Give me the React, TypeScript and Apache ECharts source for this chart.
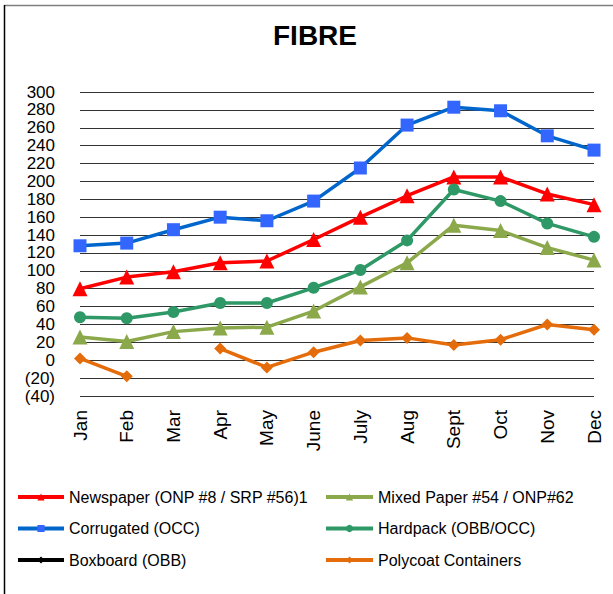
import React, { useEffect, useRef } from "react";
import * as echarts from "echarts";

const months = ["Jan", "Feb", "Mar", "Apr", "May", "June", "July", "Aug", "Sept", "Oct", "Nov", "Dec"];
const newspaper = [80, 93, 99, 109, 111, 135, 160, 184, 205, 205, 186, 174];
const mixedPaper = [26, 21, 32, 36, 37, 55, 82, 109, 151, 145, 126, 112];
const corrugated = [128, 131, 146, 160, 156, 178, 215, 263, 283, 279, 251, 235];
const hardpack = [48, 47, 54, 64, 64, 81, 101, 134, 191, 178, 153, 138];
const boxboard: (number | null)[] = [null, null, null, null, null, null, null, null, null, null, null, null];
const polycoat: (number | null)[] = [2, -18, null, 13, -8, 9, 22, 25, 17, 23, 40, 34];

const FONT = "'Liberation Sans', Arial, sans-serif";

export default function App() {
  const ref = useRef<HTMLDivElement>(null);
  useEffect(() => {
    if (!ref.current) return;
    const chart = echarts.init(ref.current, undefined, { renderer: "svg" });
    const mk = (name: string, data: (number | null)[], lineColor: string, markColor: string, symbol: string, size: number) => ({
      name,
      type: "line",
      data,
      symbol,
      symbolSize: size,
      connectNulls: false,
      lineStyle: { color: lineColor, width: 3.5 },
      itemStyle: { color: markColor },
    });
    const legendBase = {
      orient: "vertical",
      top: 484,
      itemHeight: 9,
      itemGap: 15.5,
      lineStyle: { width: 4 },
      textStyle: { fontSize: 16, color: "#000", fontFamily: FONT },
    };
    chart.setOption({
      animation: false,
      backgroundColor: "#ffffff",
      textStyle: { fontFamily: FONT },
      title: {
        text: "FIBRE",
        left: 268,
        top: 16,
        textStyle: { fontFamily: FONT, fontSize: 28, fontWeight: "bold", color: "#000" },
      },
      grid: { left: 80, right: 19, top: 92, bottom: 198, containLabel: false },
      xAxis: {
        type: "category",
        data: months,
        boundaryGap: false,
        axisLine: { show: false },
        axisTick: { show: false },
        axisLabel: { rotate: 90, margin: 14, fontSize: 19, color: "#000", fontFamily: FONT },
        splitLine: { show: false },
      },
      yAxis: {
        type: "value",
        min: -40,
        max: 300,
        interval: 20,
        axisLine: { show: false },
        axisTick: { show: false },
        axisLabel: {
          margin: 25,
          fontSize: 17,
          lineHeight: 16,
          color: "#000",
          fontFamily: FONT,
          showMinLabel: true,
          showMaxLabel: true,
          hideOverlap: false,
          formatter: (v: number) => (v < 0 ? `(${-v})` : `${v}`),
        },
        splitLine: { show: true, lineStyle: { color: "#333", width: 1 } },
      },
      legend: [
        {
          ...legendBase,
          data: ["Newspaper (ONP #8 / SRP #56)1", "Corrugated (OCC)", "Boxboard (OBB)"],
          left: 11,
          itemWidth: 46,
        },
        {
          ...legendBase,
          data: ["Mixed Paper #54 / ONP#62", "Hardpack (OBB/OCC)", "Polycoat Containers"],
          left: 319,
          itemWidth: 47,
        },
      ],
      graphic: [
        { type: "line", shape: { x1: 4, y1: 5.5, x2: 613, y2: 5.5 }, style: { stroke: "#7f7f7f", lineWidth: 1.5 } },
        { type: "line", shape: { x1: 4.5, y1: 5, x2: 4.5, y2: 594 }, style: { stroke: "#000", lineWidth: 1.5 } },
      ],
      series: [
        mk("Newspaper (ONP #8 / SRP #56)1", newspaper, "#ff0000", "#ff0000", "triangle", 15),
        mk("Mixed Paper #54 / ONP#62", mixedPaper, "#8ba84b", "#8ba84b", "triangle", 15),
        mk("Corrugated (OCC)", corrugated, "#0066cc", "#3366ff", "rect", 13),
        mk("Hardpack (OBB/OCC)", hardpack, "#2e9966", "#2e9966", "circle", 12),
        mk("Boxboard (OBB)", boxboard, "#000000", "#000000", "diamond", 9),
        mk("Polycoat Containers", polycoat, "#e46c0a", "#e46c0a", "diamond", 12),
      ],
    });
    return () => chart.dispose();
  }, []);
  return <div ref={ref} style={{ position: "fixed", left: 0, top: 0, width: 613, height: 594 }} />;
}
